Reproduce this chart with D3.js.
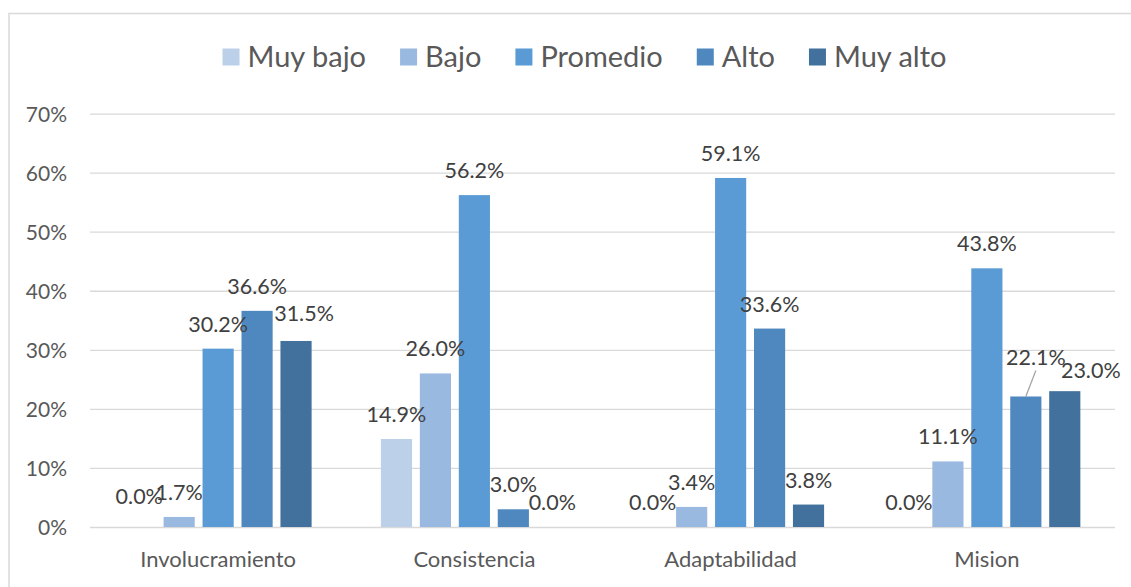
<!DOCTYPE html>
<html>
<head>
<meta charset="utf-8">
<script src="https://cdn.jsdelivr.net/npm/d3@7"></script>
<style>
  html, body { margin: 0; padding: 0; background: #ffffff; }
  svg { display: block; font-family: Lato, "Open Sans", sans-serif; }
</style>
</head>
<body>
<svg id="chart" width="1131" height="587"></svg>
<script>
// ---- Data ----
const categories = ["Involucramiento", "Consistencia", "Adaptabilidad", "Mision"];
const seriesNames = ["Muy bajo", "Bajo", "Promedio", "Alto", "Muy alto"];
const muyBajo  = [0.0, 14.9, 0.0, 0.0];
const bajo     = [1.7, 26.0, 3.4, 11.1];
const promedio = [30.2, 56.2, 59.1, 43.8];
const alto     = [36.6, 3.0, 33.6, 22.1];
const muyAlto  = [31.5, 0.0, 3.8, 23.0];
const yTicks = [0, 10, 20, 30, 40, 50, 60, 70];
const seriesColors = ["#BDD0EA", "#9AB9E0", "#5B9BD5", "#4E88BF", "#41719C"];

const seriesValues = [muyBajo, bajo, promedio, alto, muyAlto];

// manual label nudges (Excel-style adjusted labels): key "cat|series"
const labelNudge = {
  "0|0": {dx: -1, dy: -6},
  "0|4": {dx: 8, dy: -3},
  "3|3": {dx: 10, dy: -14, leader: true},
  "3|4": {dx: 26, dy: 4}
};

// ---- Layout ----
const svg = d3.select("#chart");
const W = 1131, H = 587;
const plot = {left: 90, right: 1115, top: 113.6, bottom: 527};

// chart border (top and left visible)
svg.append("rect")
  .attr("x", 9).attr("y", 13.5)
  .attr("width", W + 20).attr("height", H + 20)
  .attr("fill", "none").attr("stroke", "#D9D9D9").attr("stroke-width", 1.5);

const x0 = d3.scaleBand().domain(categories)
  .range([plot.left, plot.right]).paddingInner(0.24).paddingOuter(0.12);
const x1 = d3.scaleBand().domain(seriesNames)
  .range([0, x0.bandwidth()]).paddingInner(0.2).paddingOuter(0.1);
const y = d3.scaleLinear().domain([0, 70]).range([plot.bottom, plot.top]);

// gridlines
const yAxis = d3.axisLeft(y).tickValues(yTicks).tickFormat(d => d + "%")
  .tickSize(-(plot.right - plot.left)).tickPadding(23);
const gy = svg.append("g").attr("transform", `translate(${plot.left},0)`).call(yAxis);
gy.select(".domain").remove();
gy.selectAll(".tick line").attr("stroke", "#D9D9D9").attr("stroke-width", 1.3);
gy.selectAll(".tick text").attr("fill", "#595959").style("font-size", "21px")
  .attr("font-family", "Lato, sans-serif").attr("dy", "0.36em");

// x axis labels
const xAxis = d3.axisBottom(x0).tickSize(0).tickPadding(24);
const gx = svg.append("g").attr("transform", `translate(0,${plot.bottom})`).call(xAxis);
gx.select(".domain").remove();
gx.selectAll(".tick text").attr("fill", "#595959").style("font-size", "22px")
  .attr("font-family", "Lato, sans-serif");

// bars
const cells = [];
categories.forEach((c, ci) => {
  seriesNames.forEach((s, si) => {
    cells.push({cat: c, ci, series: s, si, value: seriesValues[si][ci]});
  });
});

svg.append("g").selectAll("rect").data(cells).join("rect")
  .attr("x", d => x0(d.cat) + x1(d.series))
  .attr("y", d => y(d.value))
  .attr("width", x1.bandwidth())
  .attr("height", d => y(0) - y(d.value))
  .attr("fill", d => seriesColors[d.si]);

// data labels
const lg = svg.append("g");
cells.forEach(d => {
  const nudge = labelNudge[d.ci + "|" + d.si] || {dx: 0, dy: 0};
  const cx = x0(d.cat) + x1(d.series) + x1.bandwidth() / 2;
  const top = y(d.value);
  const tx = cx + nudge.dx, ty = top - 17 + nudge.dy;
  if (nudge.leader) {
    lg.append("line")
      .attr("x1", tx).attr("y1", ty + 5)
      .attr("x2", cx).attr("y2", top)
      .attr("stroke", "#A6A6A6").attr("stroke-width", 1.3);
  }
  lg.append("text")
    .attr("x", tx).attr("y", ty)
    .attr("text-anchor", "middle")
    .attr("fill", "#404040")
    .style("font-size", "21.5px")
    .text(d.value.toFixed(1) + "%");
});

// legend
const legend = svg.append("g");
const legendItems = legend.selectAll("g").data(seriesNames).join("g");
legendItems.append("rect").attr("width", 17).attr("height", 17)
  .attr("y", -8.5).attr("fill", (d, i) => seriesColors[i]);
legendItems.append("text").attr("x", 25).attr("dy", "0.36em")
  .attr("fill", "#595959").style("font-size", "29px").text(d => d);
let cursor = 0;
legendItems.each(function() {
  const g = d3.select(this);
  g.attr("transform", `translate(${cursor},0)`);
  const w = g.select("text").node().getComputedTextLength();
  cursor += 25 + w + 34;
});
const totalW = cursor - 34;
legend.attr("transform", `translate(${584.5 - totalW / 2},57)`);
</script>
</body>
</html>
